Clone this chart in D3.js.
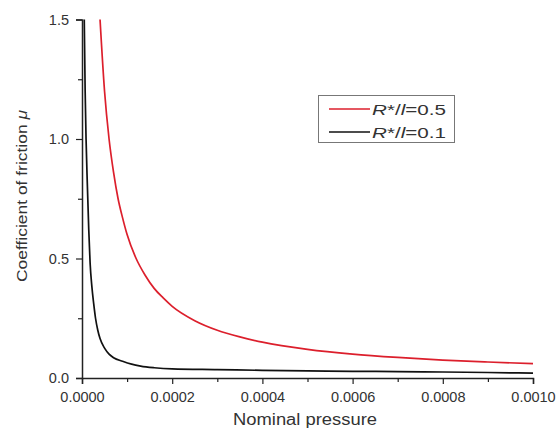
<!DOCTYPE html>
<html><head><meta charset="utf-8">
<script src="https://cdn.jsdelivr.net/npm/d3@7"></script>
<style>body{margin:0;background:#fff;} svg{display:block;font-family:"Liberation Sans",Arial,sans-serif;}</style>
</head><body>
<svg id="c" width="557" height="429"></svg>
<script>
// pressure values (units of 1e-4) and friction coefficients
const redP  = [0.4,0.5,0.6,0.7,0.8,0.9,1.0,1.2,1.4,1.6,1.8,2.0,2.5,3.0,3.5,4.0,5.0,6.0,7.0,8.0,9.0,10.0];
const redMu = [1.5,1.2,1.0,0.86,0.75,0.67,0.6,0.5,0.43,0.375,0.335,0.30,0.24,0.20,0.172,0.15,0.12,0.10,0.086,0.075,0.067,0.06];
const blackP  = [0.05,0.07,0.09,0.12,0.15,0.18,0.22,0.26,0.30,0.35,0.4,0.5,0.6,0.7,0.9,1.1,1.3,1.6,2.0,3.0,4.0,5.0,6.0,7.0,8.0,9.0,10.0];
const blackMu = [1.5,1.2,1.0,0.8,0.62,0.48,0.38,0.31,0.25,0.2,0.165,0.125,0.1,0.085,0.07,0.058,0.05,0.043,0.038,0.035,0.032,0.03,0.028,0.027,0.025,0.023,0.02];
const xTicks = [0,0.0002,0.0004,0.0006,0.0008,0.0010];
const xMinor = [0.0001,0.0003,0.0005,0.0007,0.0009];
const yTicks = [0,0.5,1.0,1.5];
const yMinor = [0.25,0.75,1.25];
const seriesNames = ["0.5","0.1"];

const svg = d3.select("#c");
const x = d3.scaleLinear().domain([0,0.001]).range([82,533]);
const y = d3.scaleLinear().domain([0,1.5]).range([378,19.5]);
const textCol = "#333";

// axes
svg.append("g").attr("transform","translate(0,378)")
  .call(d3.axisBottom(x).tickValues(xTicks).tickFormat(d3.format(".4f")).tickSize(6).tickPadding(8));
svg.append("g").attr("transform","translate(0,378)")
  .call(d3.axisBottom(x).tickValues(xMinor).tickFormat("").tickSize(4)).select(".domain").remove();
svg.append("g").attr("transform","translate(82,0)")
  .call(d3.axisLeft(y).tickValues(yTicks).tickFormat(d3.format(".1f")).tickSize(6).tickPadding(7));
svg.append("g").attr("transform","translate(82,0)")
  .call(d3.axisLeft(y).tickValues(yMinor).tickFormat("").tickSize(4)).select(".domain").remove();
svg.selectAll(".domain").attr("stroke","#222").attr("stroke-width",1.5);
svg.selectAll(".tick line").attr("stroke","#222").attr("stroke-width",1.2);
svg.selectAll(".tick text").attr("font-size",14.5).attr("fill",textCol).attr("font-family","Liberation Sans, Arial, sans-serif");

// clip
svg.append("clipPath").attr("id","clip").append("rect").attr("x",82).attr("y",19).attr("width",460).attr("height",360);

const line = d3.line().x(d=>x(d[0]*1e-4)).y(d=>y(d[1])).curve(d3.curveMonotoneX);
const g = svg.append("g").attr("clip-path","url(#clip)");
g.append("path").datum(blackP.map((p,i)=>[p,blackMu[i]])).attr("d",line)
  .attr("fill","none").attr("stroke","#111").attr("stroke-width",1.7);
g.append("path").datum(redP.map((p,i)=>[p,redMu[i]])).attr("d",line)
  .attr("fill","none").attr("stroke","#dc1f2c").attr("stroke-width",1.7);

// axis titles
svg.append("text").attr("x",305).attr("y",425).attr("text-anchor","middle")
  .attr("font-size",16).attr("textLength",144).attr("lengthAdjust","spacingAndGlyphs")
  .attr("fill",textCol).text("Nominal pressure");
const yt = svg.append("text").attr("transform","translate(27,196) rotate(-90)").attr("text-anchor","middle")
  .attr("font-size",15).attr("textLength",172).attr("lengthAdjust","spacingAndGlyphs").attr("fill",textCol);
yt.append("tspan").text("Coefficient of friction ");
yt.append("tspan").attr("font-style","italic").text("μ");

// legend
const lg = svg.append("g");
lg.append("rect").attr("x",318.5).attr("y",95.5).attr("width",136).attr("height",47)
  .attr("fill","#fff").attr("stroke","#777").attr("stroke-width",1);
const cols = ["#dc1f2c","#111"];
seriesNames.forEach((n,i)=>{
  const yy = 109 + i*23;
  lg.append("line").attr("x1",329).attr("x2",370).attr("y1",yy).attr("y2",yy)
    .attr("stroke",cols[i]).attr("stroke-width",1.3);
  const t = lg.append("text").attr("x",372).attr("y",yy+5.5).attr("font-size",15.5)
    .attr("textLength",74).attr("lengthAdjust","spacingAndGlyphs").attr("fill",textCol);
  t.append("tspan").attr("font-style","italic").text("R");
  t.append("tspan").text("*/");
  t.append("tspan").attr("font-style","italic").text("l");
  t.append("tspan").text("=" + n);
});
</script>
</body></html>
